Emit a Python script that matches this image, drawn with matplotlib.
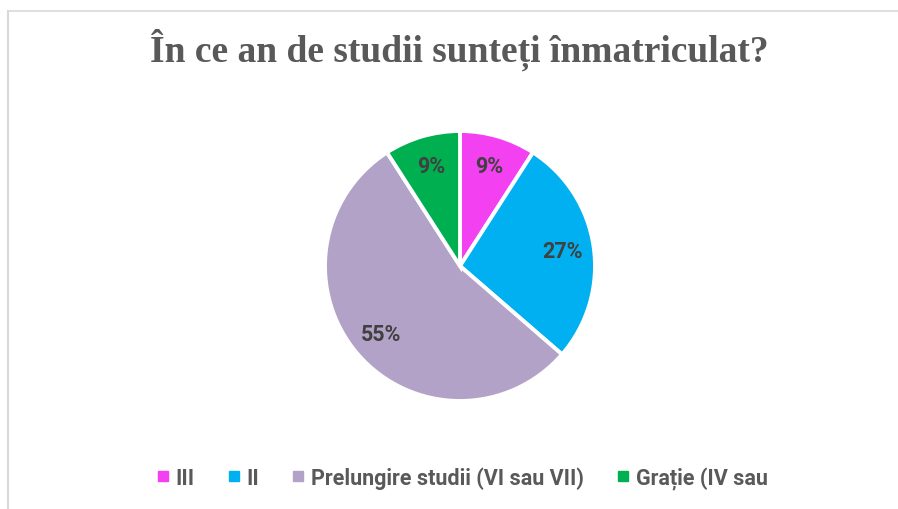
import matplotlib
matplotlib.use('Agg')
import matplotlib.pyplot as plt
from matplotlib.lines import Line2D

# survey answers (counts), clockwise from 12 o'clock
labels = ['III', 'II', 'Prelungire studii (VI sau VII)', 'Grație (IV sau']
counts = [1, 3, 6, 1]
colors = ['#F340F0', '#00B0F0', '#B3A2C7', '#00B050']
title = 'În ce an de studii sunteți înmatriculat?'

W, H = 898, 510
fig = plt.figure(figsize=(W / 100, H / 100), dpi=100)

# chart frame (only top and left edges are visible in the crop)
fig.add_artist(Line2D([7.5 / W, 7.5 / W], [0, 1 - 11.5 / H], color='#D9D9D9', lw=1.5))
fig.add_artist(Line2D([7.5 / W, 1], [1 - 11.5 / H, 1 - 11.5 / H], color='#D9D9D9', lw=1.2))

fig.text(459 / W, 1 - 50 / H, title, ha='center', va='center',
         family='Liberation Serif', weight='bold', size=27, color='#595959')

cx, cy, r = 460, 267, 135
ax = fig.add_axes([(cx - r) / W, (H - cy - r) / H, 2 * r / W, 2 * r / H])
wedges, _, autotexts = ax.pie(
    counts, colors=colors, startangle=90, counterclock=False,
    autopct=lambda p: f'{p:.0f}%', pctdistance=0.77,
    wedgeprops=dict(edgecolor='white', linewidth=2.8),
    textprops=dict(family='Roboto', weight='bold', size=15.5, color='#404040'))
ax.set_xlim(-1, 1)
ax.set_ylim(-1, 1)
ax.set_aspect('equal')
ax.axis('off')

handles = [Line2D([], [], marker='s', ls='none', markersize=7,
                  markerfacecolor=c, markeredgecolor=c) for c in colors]
fig.legend(handles, labels, loc='center', bbox_to_anchor=(462 / W, 1 - 479 / H),
           ncol=4, frameon=False, handletextpad=0.3, columnspacing=1.5,
           handlelength=0.6,
           prop=dict(family='Roboto', weight='bold', size=15.5), labelcolor='#595959')

fig.savefig('out.png', dpi=100, facecolor='white')
